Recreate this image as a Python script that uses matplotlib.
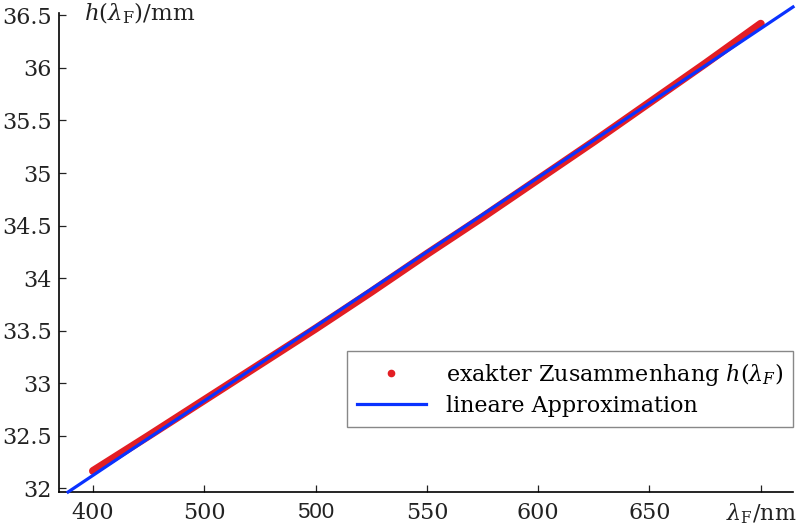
import numpy as np
import matplotlib
matplotlib.use('Agg')
import matplotlib.pyplot as plt
from matplotlib.lines import Line2D

# Werte
lam = [400, 425, 450, 475, 500, 525, 550, 575, 600, 625, 650, 675, 700]
h_exakt = [32.165, 32.50, 32.84, 33.18, 33.52, 33.87, 34.23, 34.58, 34.94, 35.30, 35.67, 36.04, 36.42]

lam_lin = [388.8, 714.5]
h_lin = [31.965, 36.58]

xticks = [400, 450, 500, 550, 600, 650, 700]
xticklabels = ['400', '500', '500', '550', '600', '650', r'$\lambda_\mathrm{F}$/nm']
yticks = [32, 32.5, 33, 33.5, 34, 34.5, 35, 35.5, 36, 36.5]
yticklabels = ['32', '32.5', '33', '33.5', '34', '34.5', '35', '35.5', '36', '36.5']

plt.rcParams['font.family'] = ['DejaVu Serif']
plt.rcParams['mathtext.fontset'] = 'dejavuserif'

fig = plt.figure(figsize=(7.97, 5.27), dpi=100)
ax = fig.add_axes([0.074, 0.0664, 0.921, 0.9084])

rot = '#e31e24'
blau = '#0a32ff'
fs = 16

ax.plot(lam, h_exakt, color=rot, lw=5.8, solid_capstyle='round', zorder=2)
ax.plot(lam_lin, h_lin, color=blau, lw=2.3, clip_on=False, zorder=3)

ax.set_xlim(384.7, 714.5)
ax.set_ylim(31.965, 36.52)

ax.spines['top'].set_visible(False)
ax.spines['right'].set_visible(False)
ax.spines['left'].set_linewidth(1.2)
ax.spines['bottom'].set_linewidth(1.2)

ax.set_xticks(xticks)
ax.set_xticklabels(xticklabels)
ax.set_yticks(yticks)
ax.set_yticklabels(yticklabels)
ax.tick_params(direction='in', length=5, width=0.9, labelsize=fs, colors='#222222')
ax.tick_params(axis='x', pad=7)
ax.tick_params(axis='y', pad=5)
ax.get_xticklabels()[2].set_fontfamily('Liberation Sans')

ax.text(0.034, 1.0, r'$h(\lambda_\mathrm{F})/\mathrm{mm}$', transform=ax.transAxes,
        fontsize=fs + 0.5, va='center', ha='left', color='#222222')

handles = [Line2D([], [], ls='none', marker='o', ms=4.5, color=rot),
           Line2D([], [], color=blau, lw=2.3)]
labels = [r'exakter Zusammenhang $h(\lambda_F)$', 'lineare Approximation']
leg = ax.legend(handles, labels, loc='lower right', bbox_to_anchor=(1.0, 0.136),
                borderaxespad=0, fontsize=fs, fancybox=False, framealpha=1,
                edgecolor='#888888', handlelength=3.1, borderpad=0.45,
                labelspacing=0.3, handletextpad=0.9)
leg.get_frame().set_linewidth(1.0)

fig.savefig('out.png', dpi=100)
